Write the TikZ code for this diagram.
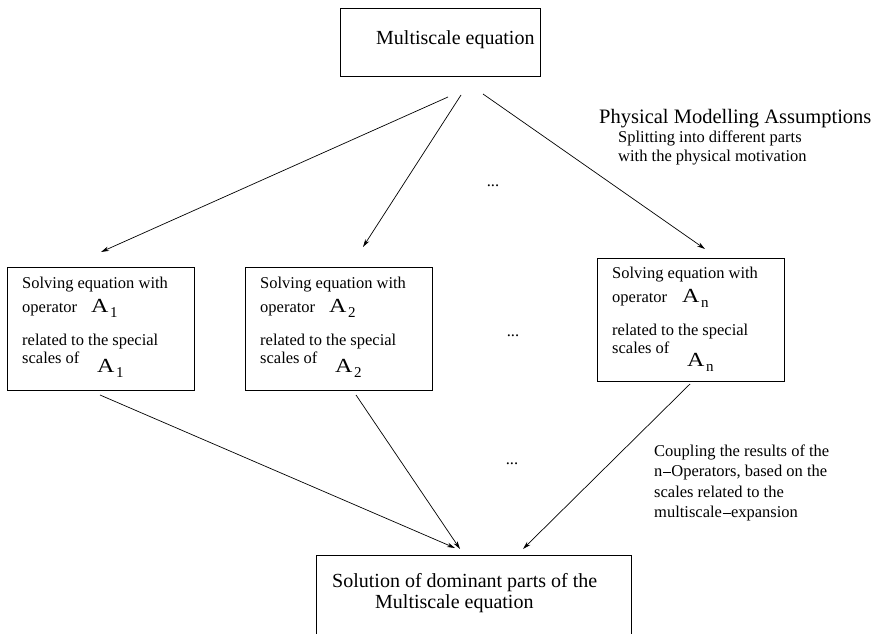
\documentclass[tikz,border=0pt]{standalone}
\usepackage{fontspec}
\usepackage{graphicx}
\setmainfont{Liberation Serif}
\usetikzlibrary{arrows.meta}

% operator symbol A with a lowered index
\newcommand{\opsym}[1]{{\fontsize{20}{20}\selectfont\scalebox{1.2}[1]{A}}\kern1.5pt\raisebox{-5pt}{\fontsize{15}{15}\selectfont #1}}

\tikzset{
  boxnode/.style={draw, line width=0.9pt, inner sep=0pt, anchor=north west},
  small/.style={inner sep=0pt, anchor=base west, font=\fontsize{16.5}{18}\selectfont},
  big/.style={inner sep=0pt, anchor=base west, font=\fontsize{20}{22}\selectfont},
  opnode/.style={inner sep=0pt, anchor=base west},
  flow/.style={line width=0.7pt, -{Stealth[length=8pt,width=4.5pt]}},
}

\begin{document}
\begin{tikzpicture}[x=1pt,y=-1pt]
\useasboundingbox (0,0) rectangle (881,634);

% boxes
\node[boxnode, minimum width=200pt, minimum height=68pt] (top) at (340,8) {};
\node[boxnode, minimum width=187pt, minimum height=123pt] (b1) at (7,267) {};
\node[boxnode, minimum width=187pt, minimum height=123pt] (b2) at (245,267) {};
\node[boxnode, minimum width=187pt, minimum height=123pt] (bn) at (597,258) {};
\node[boxnode, minimum width=315pt, minimum height=79pt] (bot) at (316,555) {};

% title texts
\node[big] (toptext) at (376,45) {Multiscale equation};
\node[big] (sol1) at (332,587) {Solution of dominant parts of the};
\node[big] (sol2) at (375,608) {Multiscale equation};
\node[big, font=\fontsize{20.5}{22}\selectfont] (phys) at (599,123) {Physical Modelling Assumptions};
\node[small] (split1) at (618,142) {Splitting into different parts};
\node[small] (split2) at (618,161) {with the physical motivation};

% box 1
\node[small] (t11) at (22,288) {Solving equation with};
\node[small] (t12) at (22,312) {operator};
\node[opnode] (o11) at (91,312) {\opsym{1}};
\node[small] (t13) at (22,345) {related to the special};
\node[small] (t14) at (22,363) {scales of};
\node[opnode] (o12) at (97,372) {\opsym{1}};

% box 2
\node[small] (t21) at (260,288) {Solving equation with};
\node[small] (t22) at (260,312) {operator};
\node[opnode] (o21) at (329,312) {\opsym{2}};
\node[small] (t23) at (260,345) {related to the special};
\node[small] (t24) at (260,363) {scales of};
\node[opnode] (o22) at (335,372) {\opsym{2}};

% box n
\node[small] (tn1) at (612,278) {Solving equation with};
\node[small] (tn2) at (612,302) {operator};
\node[opnode] (on1) at (682,302) {\opsym{n}};
\node[small] (tn3) at (612,335) {related to the special};
\node[small] (tn4) at (612,353) {scales of};
\node[opnode] (on2) at (687,366) {\opsym{n}};

% coupling note
\node[small] (c1) at (654,456) {Coupling the results of the};
\node[small] (c2) at (654,476) {n\raisebox{0.5pt}{\kern0.5pt\rule[2.8pt]{8pt}{0.6pt}\kern0.5pt}Operators, based on the};
\node[small] (c3) at (654,497) {scales related to the};
\node[small] (c4) at (654,517) {multiscale\raisebox{0.5pt}{\kern0.5pt\rule[2.8pt]{8pt}{0.6pt}\kern0.5pt}expansion};

% ellipses between the branches
\node[small, anchor=center] (d1) at (493,186) {...};
\node[small, anchor=center] (d2) at (513,336) {...};
\node[small, anchor=center] (d3) at (512,464) {...};

% connector end points
\coordinate (s1) at (448,97);
\coordinate (s2) at (461,95);
\coordinate (s3) at (483,94);
\coordinate (e1) at (101,252);
\coordinate (e2) at (363,247);
\coordinate (e3) at (705,249);
\coordinate (u1) at (100,395);
\coordinate (u2) at (356,395);
\coordinate (u3) at (690,384);
\coordinate (f1) at (455,548);
\coordinate (f2) at (460,549);
\coordinate (f3) at (523,549);

\draw[flow] (s1) -- (e1);
\draw[flow] (s2) -- (e2);
\draw[flow] (s3) -- (e3);
\draw[flow] (u1) -- (f1);
\draw[flow] (u2) -- (f2);
\draw[flow] (u3) -- (f3);
\end{tikzpicture}
\end{document}
